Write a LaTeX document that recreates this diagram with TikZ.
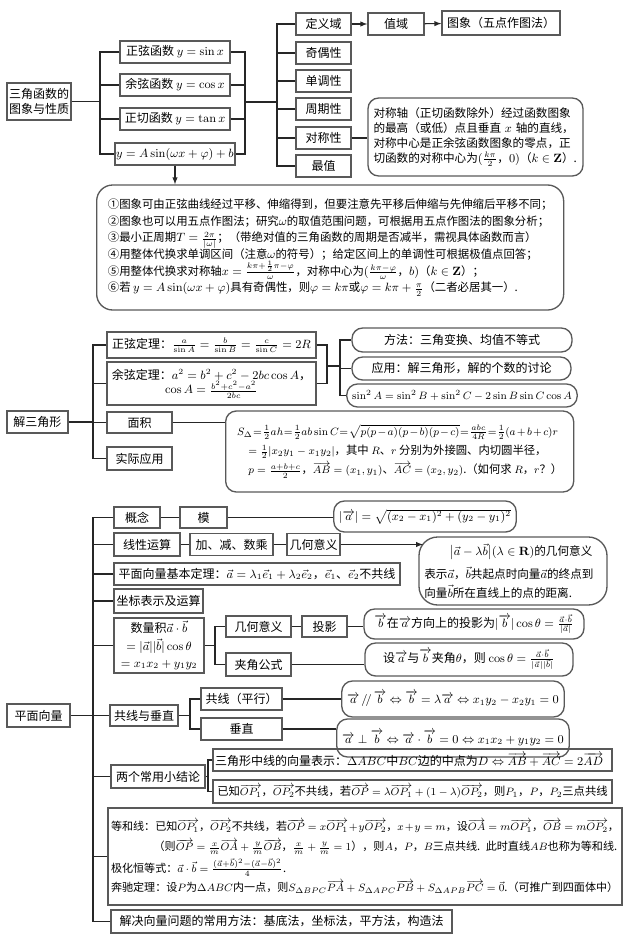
\documentclass[tikz,border=0pt]{standalone}
\usepackage{amsmath,amssymb}
\usepackage[no-math]{fontspec}
\setmainfont{Noto Sans CJK SC}
\usetikzlibrary{positioning}

\begin{document}
\begin{tikzpicture}[x=0.75pt,y=-0.75pt,
	box/.style={draw=black!65, line width=1pt, inner sep=1pt, align=center, font=\fontsize{9}{11}\selectfont},
	rbox/.style={box, rounded corners=8pt, inner xsep=4pt},
	sz/.style 2 args={minimum width=#1*0.75pt, minimum height=#2*0.75pt},
	link/.style={draw=black!85, line width=0.8pt},
	arr/.style={link, -latex}]
	
	\useasboundingbox (0,0) rectangle (640,943);
	
	\node[box, sz={64}{37}] (sjhs) at (39,101.5) {三角函数的\\图象与性质};
	\node[box, sz={110}{22}] (zx) at (175,52) {正弦函数 $y=\sin x$};
	\node[box, sz={110}{22}] (yx) at (175,85) {余弦函数 $y=\cos x$};
	\node[box, sz={110}{22}] (zq) at (175,119) {正切函数 $y=\tan x$};
	\node[box, sz={110}{22}] (yA) at (175,154) {$y=A\sin(\omega x+\varphi)+b$};
	\node[box, sz={55}{22}] (dyy) at (323.5,24) {定义域};
	\node[box, sz={55}{22}] (jox) at (323.5,53) {奇偶性};
	\node[box, sz={55}{22}] (ddx) at (323.5,81) {单调性};
	\node[box, sz={55}{22}] (zqx) at (323.5,109) {周期性};
	\node[box, sz={55}{22}] (dcx) at (323.5,138) {对称性};
	\node[box, sz={55}{22}] (zz) at (323.5,166) {最值};
	\node[box, sz={56}{22}] (zy) at (396,24) {值域};
	\node[box, sz={118}{24}] (tx) at (501,23) {图象（五点作图法）};
	\node[rbox, sz={215}{78}, text width=153pt, align=left, font=\fontsize{8.7}{11.3}\selectfont] (dcbox) at (475.5,137) {对称轴（正切函数除外）经过函数图象\\的最高（或低）点且垂直 $x$ 轴的直线，\\对称中心是正余弦函数图象的零点，正\\切函数的对称中心为$(\frac{k\pi}{2}$，$0)$（$k\in\mathbf{Z}$）.};
	\node[rbox, sz={467}{125}, anchor=west, align=left, rounded corners=12pt, font=\fontsize{8.55}{12.5}\selectfont] (xz) at (96,247.5) {①图象可由正弦曲线经过平移、伸缩得到，但要注意先平移后伸缩与先伸缩后平移不同；\\②图象也可以用五点作图法；研究$\omega$的取值范围问题，可根据用五点作图法的图象分析；\\③最小正周期$T=\frac{2\pi}{|\omega|}$；（带绝对值的三角函数的周期是否减半，需视具体函数而言）\\④用整体代换求单调区间（注意$\omega$的符号）；给定区间上的单调性可根据极值点回答；\\⑤用整体代换求对称轴$x=\frac{k\pi+\frac{1}{2}\pi-\varphi}{\omega}$，对称中心为$(\frac{k\pi-\varphi}{\omega}$，$b)$（$k\in\mathbf{Z}$）；\\⑥若 $y=A\sin(\omega x+\varphi)$具有奇偶性，则$\varphi=k\pi$或$\varphi=k\pi+\frac{\pi}{2}$（二者必居其一）.};
	
	\node[box, sz={61}{22}] (jsjx) at (37.5,422) {解三角形};
	\node[box, sz={209}{26}] (zxdl) at (211.5,345) {正弦定理：$\frac{a}{\sin A}=\frac{b}{\sin B}=\frac{c}{\sin C}=2R$};
	\node[box, sz={209}{43}] (yxdl) at (211.5,383.5) {余弦定理：$a^2=b^2+c^2-2bc\cos A$，\\$\cos A=\frac{b^2+c^2-a^2}{2bc}$};
	\node[box, sz={65}{21}] (mj) at (139.5,422.5) {面积};
	\node[box, sz={65}{23}] (sjyy) at (139.5,458.5) {实际应用};
	\node[rbox, sz={220}{24}] (ff) at (462,340) {方法：三角变换、均值不等式};
	\node[rbox, sz={219}{23}] (yy) at (461.5,368.5) {应用：解三角形，解的个数的讨论};
	\node[rbox, sz={220}{23}, font=\fontsize{8.5}{10}\selectfont] (sin2) at (462,395.5) {$\sin^2A=\sin^2B+\sin^2C-2\sin B\sin C\cos A$};
	\node[rbox, sz={348}{81}, anchor=west, align=left, font=\fontsize{8.5}{12.5}\selectfont] (mjbox) at (225,451.5) {$\thickmuskip=1mu\medmuskip=2mu S_\Delta=\frac12ah=\frac12ab\sin C=\sqrt{p(p-a)(p-b)(p-c)}=\frac{abc}{4R}=\frac12(a+b+c)r$\\[2pt]\quad$=\frac12|x_2y_1-x_1y_2|$，其中 $R$、$r$ 分别为外接圆、内切圆半径，\\[2pt]\quad$p=\frac{a+b+c}{2}$，$\overrightarrow{AB}=(x_1,y_1)$、$\overrightarrow{AC}=(x_2,y_2)$.（如何求 $R$，$r$？）};
	
	\node[box, sz={63}{23}] (pmxl) at (38.5,715.5) {平面向量};
	\node[box, sz={46}{21}] (gn) at (137,517.5) {概念};
	\node[box, sz={47}{21}] (mo) at (203.5,517.5) {模};
	\node[rbox, sz={164}{31}] (mobox) at (425,516.5) {$|\overrightarrow{a}|=\sqrt{(x_2-x_1)^2+(y_2-y_1)^2}$};
	\node[box, sz={66}{23}] (xxys) at (147,544.5) {线性运算};
	\node[box, sz={83}{22}] (jjsc) at (231.5,544.5) {加、减、数乘};
	\node[box, sz={53}{22}] (jhyy) at (313.5,544.5) {几何意义};
	\node[rbox, sz={188}{68}, text width=133pt, align=left, rounded corners=14pt, font=\fontsize{8.7}{12}\selectfont] (jhbox) at (513,571) {\hspace*{2.2em}$\bigl|\vec a-\lambda\vec b\bigr|(\lambda\in\mathbf{R})$的几何意义\\[5pt]表示$\vec a$，$\vec b$共起点时向量$\vec a$的终点到\\[2pt]向量$\vec b$所在直线上的点的距离.};
	\node[box, sz={286}{22}] (jbdl) at (257,574) {平面向量基本定理：$\vec a=\lambda_1\vec e_1+\lambda_2\vec e_2$，$\vec e_1$、$\vec e_2$不共线};
	\node[box, sz={89}{24}] (zbbs) at (158.5,601) {坐标表示及运算};
	\node[box, sz={90}{55}, font=\fontsize{9}{12.5}\selectfont] (slj) at (159,645.5) {数量积$\vec a\cdot\vec b$\\[1pt]$=|\vec a||\vec b|\cos\theta$\\$=x_1x_2+y_1y_2$};
	\node[box, sz={65}{21}] (jhyy2) at (258.5,626.5) {几何意义};
	\node[box, sz={45}{21}] (ty) at (324.5,626.5) {投影};
	\node[box, sz={65}{23}] (jjgs) at (258.5,664.5) {夹角公式};
	\node[rbox, sz={220}{30}] (tybox) at (474,624) {$\overrightarrow{b}$在$\overrightarrow{a}$方向上的投影为$|\overrightarrow{b}|\cos\theta=\frac{\vec a\cdot\vec b}{|\vec a|}$};
	\node[rbox, sz={208}{33}] (jjbox) at (469,659.5) {设$\overrightarrow{a}$与$\overrightarrow{b}$夹角$\theta$，则 $\cos\theta=\frac{\vec a\cdot\vec b}{|\vec a||\vec b|}$};
	\node[box, sz={68}{21}] (gxcz) at (144,715.5) {共线与垂直};
	\node[box, sz={81}{22}] (gx) at (241.5,699) {共线（平行）};
	\node[box, sz={81}{22}] (cz) at (241.5,729) {垂直};
	\node[rbox, sz={210}{36}] (gxbox) at (453,699) {$\overrightarrow{a}\,/\!/\,\overrightarrow{b}\Leftrightarrow\overrightarrow{b}=\lambda\overrightarrow{a}\Leftrightarrow x_1y_2-x_2y_1=0$};
	\node[rbox, sz={210}{38}] (czbox) at (453,738) {$\overrightarrow{a}\perp\overrightarrow{b}\Leftrightarrow\overrightarrow{a}\cdot\overrightarrow{b}=0\Leftrightarrow x_1x_2+y_1y_2=0$};
	\node[box, sz={94}{23}] (lgcy) at (158,776.5) {两个常用小结论};
	\node[box, sz={399}{22}, text width=296pt, align=left] (sjzx) at (412.5,760) {三角形中线的向量表示：$\Delta ABC$中$BC$边的中点为$D\Leftrightarrow\overrightarrow{AB}+\overrightarrow{AC}=2\overrightarrow{AD}$};
	\node[box, sz={399}{23}, align=left, font=\fontsize{8.5}{11}\selectfont] (yzop) at (412.5,791.5) {已知$\overrightarrow{OP_1}$，$\overrightarrow{OP_2}$不共线，若$\overrightarrow{OP}=\lambda\overrightarrow{OP_1}+(1-\lambda)\overrightarrow{OP_2}$，则$P_1$，$P$，$P_2$三点共线};
	\node[box, sz={514}{97}, text width=381pt, align=left, font=\fontsize{8.3}{11}\selectfont] (dhx) at (365,856.5) {等和线：已知$\overrightarrow{OP_1}$，$\overrightarrow{OP_2}$不共线，若$\overrightarrow{OP}=x\overrightarrow{OP_1}+y\overrightarrow{OP_2}$，$x+y=m$，设$\overrightarrow{OA}=m\overrightarrow{OP_1}$，$\overrightarrow{OB}=m\overrightarrow{OP_2}$，\\[4pt]\hspace*{32pt}（则$\overrightarrow{OP}=\frac{x}{m}\overrightarrow{OA}+\frac{y}{m}\overrightarrow{OB}$，$\frac{x}{m}+\frac{y}{m}=1$），则$A$，$P$，$B$三点共线. 此时直线$AB$也称为等和线.\\[2pt]极化恒等式：$\vec a\cdot\vec b=\frac{(\vec a+\vec b)^2-(\vec a-\vec b)^2}{4}$.\\[2pt]奔驰定理：设$P$为$\Delta ABC$内一点，则$S_{\Delta BPC}\overrightarrow{PA}+S_{\Delta APC}\overrightarrow{PB}+S_{\Delta APB}\overrightarrow{PC}=\vec 0$.（可推广到四面体中）};
	\node[box, sz={341}{23}] (jj) at (281.5,921.5) {解决向量问题的常用方法：基底法，坐标法，平方法，构造法};
	
	\coordinate (ta) at (100,101.5);
	\coordinate (tb) at (245,102);
	\coordinate (tc) at (277,102);
	\draw[link] (sjhs.east) -- (ta);
	\draw[link] (zx.west) -| (ta);
	\draw[link] (yx.west) -| (ta);
	\draw[link] (zq.west) -| (ta);
	\draw[link] (yA.west) -| (ta);
	\draw[link] (zx.east) -| (tb);
	\draw[link] (yx.east) -| (tb);
	\draw[link] (zq.east) -| (tb);
	\draw[link] (yA.east) -| (tb);
	\draw[link] (tb) -- (tc);
	\draw[link] (dyy.west) -| (tc);
	\draw[link] (jox.west) -| (tc);
	\draw[link] (ddx.west) -| (tc);
	\draw[link] (zqx.west) -| (tc);
	\draw[link] (dcx.west) -| (tc);
	\draw[link] (zz.west) -| (tc);
	\draw[arr] (dyy) -- (zy);
	\draw[arr] (zy) -- (tx);
	\draw[link] (dcx.east) -- (dcx.east -| dcbox.west);
	\draw[arr] (yA.south) -- (yA.south |- xz.north);
	
	\coordinate (td) at (93,422);
	\coordinate (te) at (327,366);
	\coordinate (tf) at (340,366);
	\draw[link] (jsjx.east) -- (td);
	\draw[link] (zxdl.west) -| (td);
	\draw[link] (yxdl.west) -| (td);
	\draw[link] (mj.west) -| (td);
	\draw[link] (sjyy.west) -| (td);
	\draw[link] (zxdl.east) -| (te);
	\draw[link] (yxdl.east) -| (te);
	\draw[link] (te) -- (tf);
	\draw[link] (ff.west) -| (tf);
	\draw[link] (yy.west) -| (tf);
	\draw[link] (sin2.west) -| (tf);
	\draw[link] (mj.east) -- (mj.east -| mjbox.west);
	
	\coordinate (tg) at (93,715.5);
	\coordinate (th) at (215,645.5);
	\coordinate (ti) at (190,715.5);
	\coordinate (tj) at (208,776.5);
	\coordinate (jhin) at (423,544.5);
	\draw[link] (pmxl.east) -- (gxcz.west);
	\draw[link] (gn.west) -| (tg);
	\draw[link] (xxys.west) -| (tg);
	\draw[link] (jbdl.west) -| (tg);
	\draw[link] (zbbs.west) -| (tg);
	\draw[link] (slj.west) -| (tg);
	\draw[link] (lgcy.west) -| (tg);
	\draw[link] (dhx.west) -| (tg);
	\draw[link] (jj.west) -| (tg);
	\draw[link] (gn) -- (mo);
	\draw[link] (mo.east) -- (mo.east -| mobox.west);
	\draw[link] (xxys) -- (jjsc);
	\draw[link] (jjsc) -- (jhyy);
	\draw[arr] (jhyy.east) -- (jhin);
	\draw[link] (slj.east) -- (th);
	\draw[link] (jhyy2.west) -| (th);
	\draw[link] (jjgs.west) -| (th);
	\draw[link] (jhyy2) -- (ty);
	\draw[link] (ty.east) -- (ty.east -| tybox.west);
	\draw[link] (jjgs.east) -- (jjgs.east -| jjbox.west);
	\draw[link] (gxcz.east) -- (ti);
	\draw[link] (gx.west) -| (ti);
	\draw[link] (cz.west) -| (ti);
	\draw[link] (gx.east) -- (gx.east -| gxbox.west);
	\draw[link] (cz.east) -- (cz.east -| czbox.west);
	\draw[link] (lgcy.east) -- (tj);
	\draw[link] (sjzx.west) -| (tj);
	\draw[link] (yzop.west) -| (tj);
\end{tikzpicture}
\end{document}
